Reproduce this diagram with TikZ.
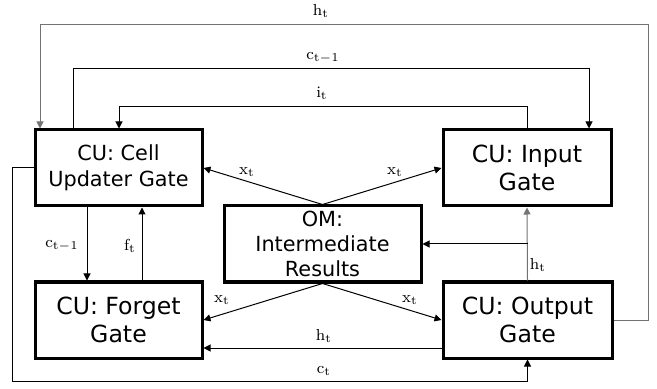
\documentclass[tikz,border=0pt]{standalone}
\usepackage{fontspec}
\newfontfamily\boxfont{DejaVu Sans}
\usetikzlibrary{arrows.meta}

\tikzset{
  gatebox/.style={draw, line width=1.5pt, minimum height=38pt, align=center,
    inner sep=0pt, font=\boxfont\fontsize{11.8}{14}\selectfont},
  smallgate/.style={gatebox, font=\boxfont\fontsize{10.4}{13}\selectfont},
  wire/.style={line width=0.5pt, -{Triangle[length=3.5pt,width=3.5pt]}},
  greywire/.style={wire, draw=black!55},
  lbl/.style={font=\footnotesize, inner sep=1pt}
}

\begin{document}
\begin{tikzpicture}[x=0.5pt,y=-0.5pt]
        \useasboundingbox (0,0) rectangle (657,389);

        \node[smallgate, minimum width=83.5pt] (cell) at (118.5,168) {CU: Cell\\Updater Gate};
        \node[gatebox, minimum width=84pt] (input) at (527,168) {CU: Input\\Gate};
        \node[smallgate, minimum width=98.5pt, font=\boxfont\fontsize{10.4}{12.3}\selectfont] (om) at (322.5,244) {OM:\\Intermediate\\Results};
        \node[gatebox, minimum width=83.5pt] (forget) at (118.5,320) {CU: Forget\\Gate};
        \node[gatebox, minimum width=84.5pt] (output) at (527.5,320) {CU: Output\\Gate};

        % routing corners
        \coordinate (htr) at (648,25);
        \coordinate (htl) at (40,25);
        \coordinate (ctl) at (73,69);
        \coordinate (ctr) at (589,69);
        \coordinate (itr) at (527,107);
        \coordinate (itl) at (119,107);
        \coordinate (cbl) at (12,381);
        \coordinate (cdx) at (87,0);
        \coordinate (ftx) at (142,0);
        \coordinate (hty) at (0,348);
        \coordinate (htb) at (output.north |- om.east);

        % loops over the top
        \draw[greywire] (output.east) -| (htr) -- (htl) -- (htl |- cell.north);
        \draw[wire] (ctl |- cell.north) -- (ctl) -- (ctr) -- (ctr |- input.north);
        \draw[wire] (itr |- input.north) -- (itr) -- (itl) -- (itl |- cell.north);

        % loop underneath
        \draw[wire] (cell.west) -| (cbl) -| (output.south);

        % between the left gates
        \draw[wire] (cdx |- cell.south) -- (cdx |- forget.north);
        \draw[wire] (ftx |- forget.north) -- (ftx |- cell.south);

        % x_t from the intermediate results
        \draw[wire] (om.north) -- (cell.east);
        \draw[wire] (om.north) -- (input.west);
        \draw[wire] (om.south) -- (forget.east);
        \draw[wire] (om.south) -- (output.west);

        % h_t from the output gate
        \draw[greywire] (output.north) -- (input.south);
        \draw[wire] (htb) -- (om.east);
        \draw[wire] (output.west |- hty) -- (forget.east |- hty);

        \node[lbl] (lhtop) at (321,11) {$\mathrm{h_t}$};
        \node[lbl] (lctop) at (323,58) {$\mathrm{c_{t-1}}$};
        \node[lbl] (litop) at (322,93) {$\mathrm{i_t}$};
        \node[lbl] (lxcell) at (247,172) {$\mathrm{x_t}$};
        \node[lbl] (lxinput) at (395,172) {$\mathrm{x_t}$};
        \node[lbl] (lcdown) at (62,246) {$\mathrm{c_{t-1}}$};
        \node[lbl] (lfup) at (130,246) {$\mathrm{f_t}$};
        \node[lbl] (lhup) at (538,265) {$\mathrm{h_t}$};
        \node[lbl] (lxforget) at (222,300) {$\mathrm{x_t}$};
        \node[lbl] (lxoutput) at (410,300) {$\mathrm{x_t}$};
        \node[lbl] (lhlow) at (324,336) {$\mathrm{h_t}$};
        \node[lbl] (lcbot) at (324,371) {$\mathrm{c_t}$};

\end{tikzpicture}
\end{document}
